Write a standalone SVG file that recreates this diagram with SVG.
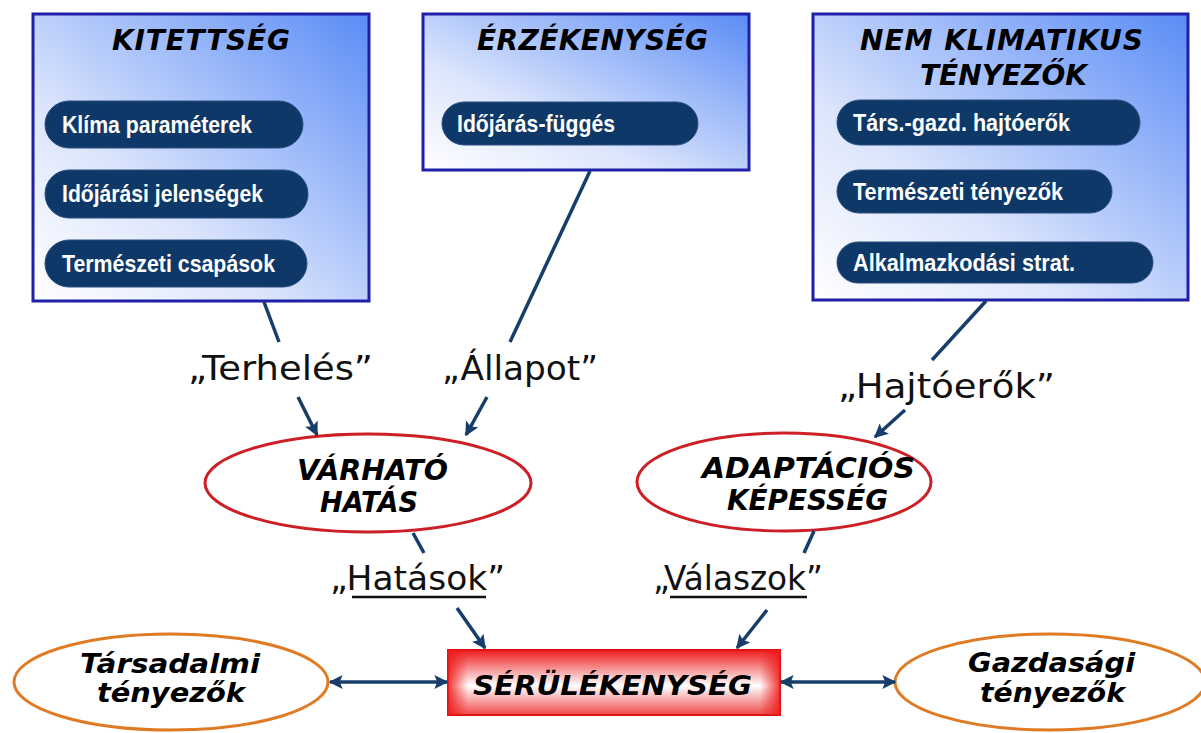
<svg xmlns="http://www.w3.org/2000/svg" width="1201" height="733" viewBox="0 0 1201 733">
<defs>
<linearGradient id="boxGrad" x1="0" y1="1" x2="1" y2="0">
<stop offset="0" stop-color="#ffffff"/>
<stop offset="0.35" stop-color="#dce5fc"/>
<stop offset="1" stop-color="#5a8cf6"/>
</linearGradient>
<linearGradient id="redV" x1="0" y1="0" x2="0" y2="1">
<stop offset="0" stop-color="#ee1c1c"/>
<stop offset="0.55" stop-color="#ffffff"/>
<stop offset="1" stop-color="#f04848"/>
</linearGradient>
<linearGradient id="redH" x1="0" y1="0" x2="1" y2="0">
<stop offset="0" stop-color="#ee1c1c" stop-opacity="0.9"/>
<stop offset="0.06" stop-color="#ee1c1c" stop-opacity="0"/>
<stop offset="0.94" stop-color="#ee1c1c" stop-opacity="0"/>
<stop offset="1" stop-color="#ee1c1c" stop-opacity="0.9"/>
</linearGradient>
<marker id="arr" viewBox="0 0 10 10" refX="9" refY="5" markerUnits="userSpaceOnUse" markerWidth="15" markerHeight="14" orient="auto-start-reverse">
<path d="M0,0 L10,5 L0,10 L2,5 z" fill="#173d6b"/>
</marker>
<style>
.box{fill:url(#boxGrad);stroke:#1f1fa8;stroke-width:3}
.pill{fill:#0e3868;stroke:#2a4f80;stroke-width:1}
.pt{font-family:"Liberation Sans",Arial,sans-serif;font-weight:bold;font-size:24px;fill:#ffffff}
.title{font-family:"DejaVu Sans",Verdana,sans-serif;font-weight:bold;font-style:italic;font-size:28px;fill:#000}
.et{font-family:"DejaVu Sans",Verdana,sans-serif;font-weight:bold;font-style:italic;font-size:29px;fill:#000}
.bt{font-family:"DejaVu Sans",Verdana,sans-serif;font-weight:bold;font-style:italic;font-size:27px;fill:#000}
.lab{font-family:"DejaVu Sans",Tahoma,sans-serif;font-size:34px;fill:#111}
.ul{stroke:#111;stroke-width:2.5}
.ell{fill:#ffffff;stroke:#cc1f26;stroke-width:3}
.oell{fill:#ffffff;stroke:#e07b25;stroke-width:3}
.con{fill:none;stroke:#173d6b;stroke-width:3.5}
</style>
</defs>
<rect width="1201" height="733" fill="#ffffff"/>

<g id="kitettseg">
<rect class="box" x="33" y="14" width="336" height="287"/>
<text class="title" x="112" y="50" textLength="178" lengthAdjust="spacing">KITETTSÉG</text>
<rect class="pill" x="45" y="101" width="258" height="47" rx="24"/>
<text class="pt" x="62" y="133" textLength="190" lengthAdjust="spacingAndGlyphs">Klíma paraméterek</text>
<rect class="pill" x="45" y="170" width="263" height="48" rx="24"/>
<text class="pt" x="62" y="202" textLength="201" lengthAdjust="spacingAndGlyphs">Időjárási jelenségek</text>
<rect class="pill" x="45" y="240" width="262" height="47" rx="24"/>
<text class="pt" x="62" y="272" textLength="213" lengthAdjust="spacingAndGlyphs">Természeti csapások</text>
</g>

<g id="erzekenyseg">
<rect class="box" x="423" y="14" width="326" height="156"/>
<text class="title" x="477" y="50" textLength="231" lengthAdjust="spacing">ÉRZÉKENYSÉG</text>
<rect class="pill" x="442" y="102" width="256" height="43" rx="22"/>
<text class="pt" x="457" y="132" textLength="158" lengthAdjust="spacingAndGlyphs">Időjárás-függés</text>
</g>

<g id="nem-klimatikus">
<rect class="box" x="813" y="14" width="375" height="286"/>
<text class="title" x="860" y="50" textLength="283" lengthAdjust="spacing">NEM KLIMATIKUS</text>
<text class="title" x="920" y="85" textLength="167" lengthAdjust="spacing">TÉNYEZŐK</text>
<rect class="pill" x="837" y="100" width="303" height="45" rx="23"/>
<text class="pt" x="853" y="131" textLength="217" lengthAdjust="spacingAndGlyphs">Társ.-gazd. hajtóerők</text>
<rect class="pill" x="837" y="170" width="275" height="43" rx="22"/>
<text class="pt" x="853" y="200" textLength="210" lengthAdjust="spacingAndGlyphs">Természeti tényezők</text>
<rect class="pill" x="837" y="242" width="316" height="41" rx="21"/>
<text class="pt" x="853" y="271" textLength="222" lengthAdjust="spacingAndGlyphs">Alkalmazkodási strat.</text>
</g>

<g id="varhato-hatas">
<ellipse class="ell" cx="368" cy="483" rx="163" ry="49"/>
<text class="et" x="297" y="480" textLength="151" lengthAdjust="spacingAndGlyphs">VÁRHATÓ</text>
<text class="et" x="320" y="512" textLength="98" lengthAdjust="spacingAndGlyphs">HATÁS</text>
</g>

<g id="adaptacios-kepesseg">
<ellipse class="ell" cx="784" cy="482" rx="147" ry="49"/>
<text class="et" x="702" y="478" textLength="213" lengthAdjust="spacingAndGlyphs">ADAPTÁCIÓS</text>
<text class="et" x="727" y="510" textLength="161" lengthAdjust="spacingAndGlyphs">KÉPESSÉG</text>
</g>

<g id="tarsadalmi">
<ellipse class="oell" cx="171" cy="682" rx="157" ry="48"/>
<text class="bt" x="80" y="673" textLength="180" lengthAdjust="spacingAndGlyphs">Társadalmi</text>
<text class="bt" x="97" y="702" textLength="148" lengthAdjust="spacingAndGlyphs">tényezők</text>
</g>

<g id="gazdasagi">
<ellipse class="oell" cx="1050" cy="682" rx="155" ry="48"/>
<text class="bt" x="968" y="672" textLength="167" lengthAdjust="spacingAndGlyphs">Gazdasági</text>
<text class="bt" x="980" y="702" textLength="145" lengthAdjust="spacingAndGlyphs">tényezők</text>
</g>

<g id="serulekenyseg">
<rect x="448" y="650" width="332" height="65" fill="url(#redV)" stroke="#e01414" stroke-width="2"/>
<rect x="448" y="650" width="332" height="65" fill="url(#redH)"/>
<text class="bt" x="473" y="695" textLength="279" lengthAdjust="spacingAndGlyphs">SÉRÜLÉKENYSÉG</text>
</g>

<g id="connectors">
<path class="con" d="M264,302 L279,342"/>
<path class="con" d="M298,397 L317,435" marker-end="url(#arr)"/>
<path class="con" d="M590,171 L510,342"/>
<path class="con" d="M487,397 L466,435" marker-end="url(#arr)"/>
<path class="con" d="M986,301 L932,360"/>
<path class="con" d="M905,410 L875,437" marker-end="url(#arr)"/>
<path class="con" d="M413,533 L424,553"/>
<path class="con" d="M457,608 L485,648" marker-end="url(#arr)"/>
<path class="con" d="M814,531 L804,553"/>
<path class="con" d="M767,610 L737,648" marker-end="url(#arr)"/>
<path class="con" d="M330,682 L447,682" marker-start="url(#arr)" marker-end="url(#arr)"/>
<path class="con" d="M781,682 L895,682" marker-start="url(#arr)" marker-end="url(#arr)"/>
</g>

<g id="labels">
<text class="lab" x="188" y="380" textLength="185" lengthAdjust="spacingAndGlyphs">„Terhelés”</text>
<text class="lab" x="442" y="380" textLength="156" lengthAdjust="spacingAndGlyphs">„Állapot”</text>
<text class="lab" x="838" y="398" textLength="217" lengthAdjust="spacingAndGlyphs">„Hajtóerők”</text>
<text class="lab" x="330" y="590" textLength="175" lengthAdjust="spacingAndGlyphs">„Hatások”</text>
<line class="ul" x1="352" y1="597" x2="486" y2="597"/>
<text class="lab" x="653" y="590" textLength="170" lengthAdjust="spacingAndGlyphs">„Válaszok”</text>
<line class="ul" x1="670" y1="597" x2="807" y2="597"/>
</g>
</svg>
